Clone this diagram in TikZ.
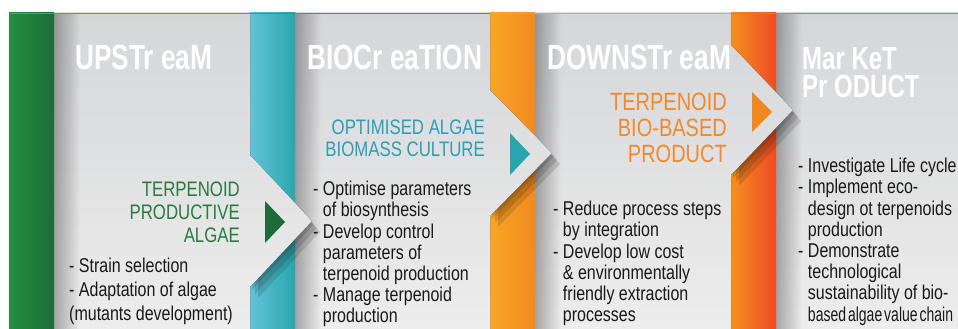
\documentclass[tikz,border=0pt]{standalone}
\usepackage{fontspec}
\setmainfont{Liberation Sans}
\newfontfamily\narrowfont[FakeStretch=0.8]{Liberation Sans}
\newfontfamily\tightfont[FakeStretch=0.7,WordSpace=0.5]{Liberation Sans}
\newfontfamily\titlefont[FakeStretch=0.75]{Liberation Sans}
\usetikzlibrary{fadings}
\definecolor{upgreen}{HTML}{22903E}
\definecolor{updark}{HTML}{1E6B39}
\definecolor{bioteal}{HTML}{62C3D9}
\definecolor{biodark}{HTML}{2AA6AC}
\definecolor{downorange}{HTML}{F8A725}
\definecolor{downdark}{HTML}{F28920}
\definecolor{mktorange}{HTML}{F5901F}
\definecolor{mktred}{HTML}{EE4A25}
\definecolor{paneltop}{HTML}{D5D6D8}
\definecolor{panelbot}{HTML}{EDEDED}
\definecolor{greentext}{HTML}{2A7A3F}
\definecolor{tealtext}{HTML}{2B9FB6}
\definecolor{orangetext}{HTML}{F28A2A}
\newcommand\indentgap{\hphantom{- }}
\tikzset{
  panel/.style={top color=paneltop, bottom color=panelbot},
  edgeshade/.style={fill=black, opacity=0.3, path fading=east},
  chevshadow/.style={fill=black, opacity=0.13},
  title/.style={anchor=north west, inner sep=0pt, text=white, align=left,
    font=\titlefont\bfseries\fontsize{35}{28}\selectfont},
  subtitle/.style={anchor=north east, inner sep=0pt, align=right},
  items/.style={anchor=north west, inner sep=0pt, align=left, text=black!90,
    font=\narrowfont\fontsize{20}{21.2}\selectfont}
}
\begin{document}
\begin{tikzpicture}[x=1pt,y=-1pt]
  \useasboundingbox (0,0) rectangle (958,329);
  \clip (0,0) rectangle (958,329);

  % market panel
  \fill[panel] (776,13) rectangle (958,329);
  \fill[edgeshade] (776,13) rectangle (802,329);
  \fill[left color=mktorange, right color=mktred] (731,13) rectangle (776,329);

  % downstream panel and its arrow
  \fill[chevshadow, shift={(2,3)}] (731,45) -- (793,110) -- (731,175) -- cycle;
  \fill[chevshadow, shift={(5,7)}] (731,45) -- (793,110) -- (731,175) -- cycle;
  \fill[chevshadow, shift={(8,11)}] (731,45) -- (793,110) -- (731,175) -- cycle;
  \fill[panel] (535,13) -- (731,13) -- (731,45) -- (793,110) -- (731,175)
    -- (731,329) -- (535,329) -- cycle;
  \fill[edgeshade] (535,13) rectangle (561,329);
  \fill[left color=downorange, right color=downdark] (490,13) rectangle (535,329);

  % biocreation panel and its arrow
  \fill[chevshadow, shift={(2,3)}] (490,90) -- (552,153) -- (490,216) -- cycle;
  \fill[chevshadow, shift={(5,7)}] (490,90) -- (552,153) -- (490,216) -- cycle;
  \fill[chevshadow, shift={(8,11)}] (490,90) -- (552,153) -- (490,216) -- cycle;
  \fill[panel] (295,13) -- (490,13) -- (490,90) -- (552,153) -- (490,216)
    -- (490,329) -- (295,329) -- cycle;
  \fill[edgeshade] (295,13) rectangle (321,329);
  \fill[left color=bioteal, right color=biodark] (250,13) rectangle (295,329);

  % upstream panel and its arrow
  \fill[chevshadow, shift={(2,3)}] (250,155) -- (312,221) -- (250,287) -- cycle;
  \fill[chevshadow, shift={(5,7)}] (250,155) -- (312,221) -- (250,287) -- cycle;
  \fill[chevshadow, shift={(8,11)}] (250,155) -- (312,221) -- (250,287) -- cycle;
  \fill[panel] (54,13) -- (250,13) -- (250,155) -- (312,221) -- (250,287)
    -- (250,329) -- (54,329) -- cycle;
  \fill[edgeshade] (54,13) rectangle (80,329);
  \fill[left color=upgreen, right color=updark] (9,13) rectangle (54,329);

  % top rules
  \draw[line width=1.5pt, upgreen!80] (9,13.75) -- (250,13.75);
  \draw[line width=1.5pt, biodark!70!upgreen] (250,13.75) -- (490,13.75);
  \draw[line width=1.5pt, downorange] (490,13.75) -- (731,13.75);
  \draw[line width=1.5pt, mktred!80] (731,13.75) -- (958,13.75);

  % small arrow heads
  \fill[updark] (265,201) -- (285,222) -- (265,243) -- cycle;
  \fill[biodark!80!tealtext] (510,133) -- (530,154) -- (510,175) -- cycle;
  \fill[downdark] (752,92) -- (772,112) -- (752,132) -- cycle;

  % titles
  \node[title] (up) at (75,45) {UPSTr eaM};
  \node[title] (bio) at (307,45) {BIOCr eaTION};
  \node[title] (down) at (547,45) {DOWNSTr eaM};
  \node[title, font=\titlefont\bfseries\fontsize{32}{28}\selectfont]
    (market) at (802,47) {Mar KeT\\Pr ODUCT};

  % outcomes
  \node[subtitle, text=greentext, font=\narrowfont\fontsize{21}{23}\selectfont]
    (algae) at (240,182) {TERPENOID\\PRODUCTIVE\\ALGAE};
  \node[subtitle, text=tealtext, font=\narrowfont\fontsize{21}{22}\selectfont]
    (culture) at (485,120) {OPTIMISED ALGAE\\BIOMASS CULTURE};
  \node[subtitle, text=orangetext, font=\narrowfont\fontsize{25}{26}\selectfont]
    (product) at (727,93) {TERPENOID\\BIO-BASED\\PRODUCT};

  % tasks
  \node[items, font=\narrowfont\fontsize{20}{24}\selectfont] (uplist) at (69,258)
    {- Strain selection\\- Adaptation of algae\\(mutants development)};
  \node[items] (biolist) at (313,181)
    {- Optimise parameters\\\indentgap of biosynthesis\\- Develop control\\
     \indentgap parameters of\\\indentgap terpenoid production\\
     - Manage terpenoid\\\indentgap production};
  \node[items] (downlist) at (553,201)
    {- Reduce process steps\\\indentgap by integration\\- Develop low cost\\
     \indentgap\& environmentally\\\indentgap friendly extraction\\
     \indentgap processes};
  \node[items] (marketlist) at (798,158)
    {- Investigate Life cycle\\- Implement eco-\\\indentgap design ot terpenoids\\
     \indentgap production\\- Demonstrate\\\indentgap technological\\
     \indentgap sustainability of bio-\\\indentgap{\tightfont based algae value chain}};
\end{tikzpicture}
\end{document}
